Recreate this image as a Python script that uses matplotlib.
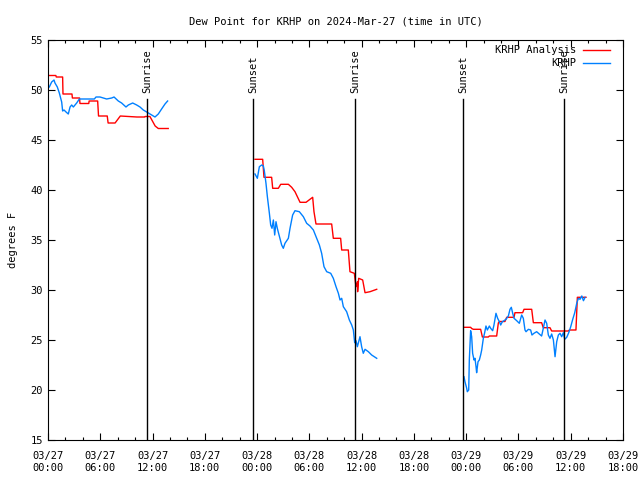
import numpy as np
import matplotlib
matplotlib.use("Agg")
import matplotlib.pyplot as plt
from matplotlib.ticker import MultipleLocator

plt.rcParams['font.family'] = ['DejaVu Sans Mono']
plt.rcParams['font.size'] = 7

# hours since 2024-03-27 00:00 UTC
# --- KRHP Analysis (red) ---
ana1_h = [0.0, 0.9, 0.95, 1.68, 1.72, 2.75, 2.8, 3.62, 3.67, 4.68, 4.72, 5.7, 5.8, 6.8, 6.9, 7.7, 8.3,
          10.2, 11.1, 11.15, 11.7, 12.3, 12.66, 13.8]
ana1_v = [51.45, 51.45, 51.3, 51.3, 49.6, 49.6, 49.2, 49.2, 48.65, 48.65, 48.9, 48.9, 47.4, 47.4, 46.7,
          46.7, 47.4, 47.3, 47.3, 47.35, 47.35, 46.4, 46.15, 46.15]

ana2_h = [23.76, 24.64, 24.79, 25.67, 25.79, 26.44, 26.71, 27.59, 27.97, 28.35, 28.93, 29.62, 30.07,
          30.38, 30.53, 30.76, 32.56, 32.75, 33.59, 33.71, 34.47, 34.66, 35.16, 35.35, 35.51, 35.54,
          35.66, 36.12, 36.39, 36.96, 37.73]
ana2_v = [43.07, 43.07, 41.27, 41.27, 40.17, 40.17, 40.57, 40.57, 40.27, 39.83, 38.77, 38.77, 39.07,
          39.27, 37.83, 36.6, 36.6, 35.17, 35.17, 34.0, 34.0, 31.83, 31.67, 30.33, 30.83, 29.83,
          31.17, 31.0, 29.73, 29.83, 30.07]

ana3_h = [47.75, 48.51, 48.63, 48.82, 49.66, 49.86, 50.54, 50.66, 51.5, 51.69, 51.81, 52.45, 52.65,
          53.49, 53.6, 54.48, 54.64, 55.52, 55.71, 56.66, 56.85, 57.62, 57.81, 59.72, 59.84, 60.6,
          60.76, 61.75]
ana3_v = [26.27, 26.27, 26.15, 26.07, 26.07, 25.3, 25.3, 25.4, 25.4, 26.7, 26.85, 26.85, 27.27,
          27.27, 27.73, 27.73, 28.07, 28.07, 26.73, 26.73, 26.23, 26.23, 25.9, 25.9, 26.0, 26.0,
          29.27, 29.27]

# --- KRHP observations (blue) ---
obs1_h = [0.0, 0.15, 0.42, 0.69, 0.80, 1.07, 1.30, 1.57, 1.68, 1.84, 2.07, 2.33, 2.53, 2.72, 2.91,
          3.29, 3.60, 5.32, 5.51, 5.97, 6.35, 6.73, 7.31, 7.58, 8.07, 8.45, 8.95, 9.22, 9.72, 10.18,
          10.56, 10.94, 11.33, 11.71, 12.28, 12.66, 13.04, 13.43, 13.73]
obs1_v = [50.2, 50.3, 50.8, 51.0, 50.7, 50.3, 49.7, 48.8, 47.9, 48.0, 47.8, 47.6, 48.3, 48.5, 48.3,
          48.7, 49.1, 49.1, 49.3, 49.3, 49.2, 49.1, 49.2, 49.3, 48.9, 48.7, 48.3, 48.5, 48.7, 48.5,
          48.3, 48.0, 47.8, 47.6, 47.3, 47.6, 48.1, 48.6, 48.9]

obs2_h = [23.76, 24.03, 24.26, 24.53, 24.72, 24.83, 25.02, 25.18, 25.41, 25.56, 25.71, 25.87, 26.02,
          26.17, 26.32, 26.55, 26.82, 27.01, 27.20, 27.59, 27.78, 28.08, 28.35, 28.85, 29.31, 29.69,
          30.07, 30.46, 30.84, 31.15, 31.41, 31.68, 31.99, 32.45, 32.75, 33.06, 33.33, 33.52, 33.71,
          33.90, 34.28, 34.59, 34.86, 35.05, 35.20, 35.35, 35.51, 35.81, 36.00, 36.19, 36.39, 36.77,
          37.15, 37.73]
obs2_v = [41.6, 41.17, 42.33, 42.5, 42.4, 41.93, 40.67, 39.33, 37.67, 36.5, 36.17, 37.0, 35.5, 36.83,
          36.17, 35.4, 34.5, 34.17, 34.67, 35.17, 36.17, 37.5, 37.93, 37.83, 37.33, 36.67, 36.4, 36.0,
          35.17, 34.5, 33.67, 32.33, 31.83, 31.67, 31.17, 30.33, 29.67, 29.0, 29.17, 28.33, 27.83,
          27.0, 26.5, 26.0, 24.73, 24.93, 24.33, 25.33, 24.33, 23.67, 24.07, 23.83, 23.5, 23.17]

obs3_h = [47.75, 47.86, 48.06, 48.13, 48.29, 48.36, 48.51, 48.63, 48.74, 48.90, 49.01, 49.13, 49.20,
          49.36, 49.51, 49.66, 49.78, 49.97, 50.12, 50.27, 50.43, 50.66, 50.81, 51.04, 51.19, 51.42,
          51.61, 51.81, 51.96, 52.15, 52.34, 52.57, 52.84, 53.03, 53.18, 53.34, 53.49, 53.80, 54.10,
          54.37, 54.56, 54.75, 54.87, 55.14, 55.40, 55.55, 55.78, 56.09, 56.39, 56.66, 56.85, 57.05,
          57.24, 57.43, 57.62, 57.81, 58.01, 58.20, 58.39, 58.58, 58.77, 58.96, 59.15, 59.31, 59.54,
          59.77, 60.0, 60.23, 60.46, 60.69, 60.88, 61.07, 61.27, 61.46, 61.65]
obs3_v = [21.33, 20.83, 20.17, 19.83, 20.0, 23.0, 25.93, 25.33, 23.67, 23.0, 23.17, 22.33, 21.73,
          22.83, 23.0, 23.5, 24.0, 25.17, 25.73, 26.4, 26.0, 26.4, 26.17, 25.93, 26.5, 27.67, 27.17,
          26.83, 26.5, 26.83, 26.93, 27.07, 27.4, 28.07, 28.27, 27.67, 27.17, 26.93, 26.67, 27.5,
          27.17, 26.0, 25.83, 26.07, 26.0, 25.5, 25.67, 25.83, 25.6, 25.4, 26.17, 27.0, 26.67, 25.5,
          25.17, 25.6, 25.0, 23.33, 24.83, 25.5, 25.67, 25.33, 25.73, 25.07, 25.27, 25.73, 26.33,
          27.07, 27.73, 28.67, 29.17, 29.07, 29.4, 28.93, 29.27]

sun_events = ["Sunrise", "Sunset", "Sunrise", "Sunset", "Sunrise"]
sun_hours = [11.37, 23.55, 35.28, 47.65, 59.27]

tick_hours = list(range(0, 67, 6))
tick_labels = ["03/27\n00:00", "03/27\n06:00", "03/27\n12:00", "03/27\n18:00",
               "03/28\n00:00", "03/28\n06:00", "03/28\n12:00", "03/28\n18:00",
               "03/29\n00:00", "03/29\n06:00", "03/29\n12:00", "03/29\n18:00"]

fig = plt.figure(figsize=(6.4, 4.8), dpi=100)
ax = fig.add_axes([48 / 640, 40 / 480, 575 / 640, 400 / 480])

red = '#ff0000'
blue = '#0080ff'
ax.plot(ana1_h, ana1_v, color=red, lw=1, label='KRHP Analysis')
ax.plot(ana2_h, ana2_v, color=red, lw=1)
ax.plot(ana3_h, ana3_v, color=red, lw=1)
ax.plot(obs1_h, obs1_v, color=blue, lw=1, label='KRHP')
ax.plot(obs2_h, obs2_v, color=blue, lw=1)
ax.plot(obs3_h, obs3_v, color=blue, lw=1)

for name, h in zip(sun_events, sun_hours):
    ax.plot([h, h], [15, 49.1], color='black', lw=1)
    ax.text(h, 49.7, name, rotation=90, ha='center', va='bottom', fontsize=7.5)

ax.set_xlim(0, 66)
ax.set_ylim(15, 55)
ax.set_xticks(tick_hours)
ax.set_xticklabels(tick_labels)
ax.xaxis.set_minor_locator(MultipleLocator(2))
ax.set_yticks(range(15, 56, 5))
ax.tick_params(which='both', direction='in', top=True, right=True, labelsize=7.5)
ax.tick_params(which='major', length=5, width=0.8)
ax.tick_params(which='minor', length=2.5, width=0.8)
ax.tick_params(axis='x', pad=8)
for s in ax.spines.values():
    s.set_linewidth(0.8)

ax.set_ylabel('degrees F', fontsize=7.5, labelpad=9)
ax.set_title('Dew Point for KRHP on 2024-Mar-27 (time in UTC)', fontsize=7.5, pad=11)

ax.legend(loc='upper right', bbox_to_anchor=(0.984, 0.997), frameon=False, markerfirst=False,
          fontsize=7.5, handlelength=2.6, borderaxespad=0, labelspacing=0.3, handletextpad=0.6)

fig.savefig('out.png', dpi=100)
